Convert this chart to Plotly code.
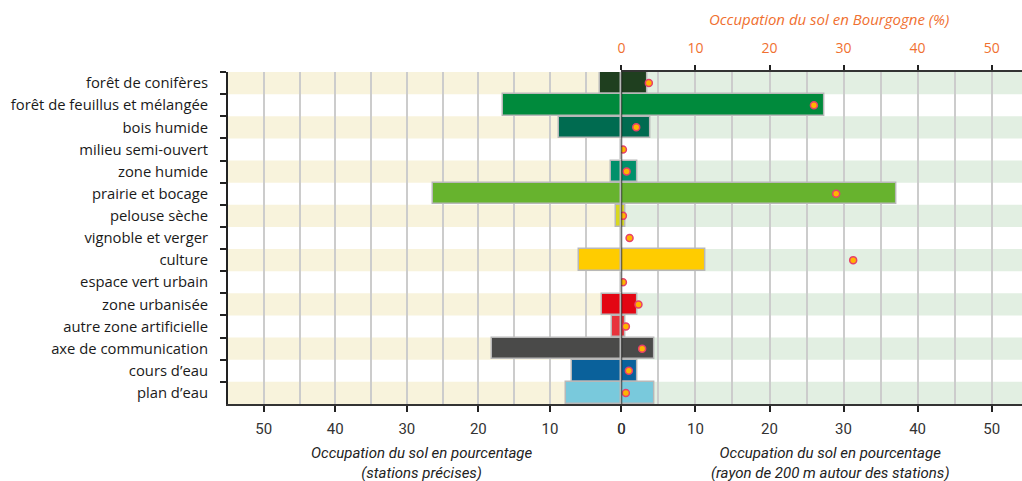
import plotly.graph_objects as go

categories = ["forêt de conifères", "forêt de feuillus et mélangée", "bois humide",
              "milieu semi-ouvert", "zone humide", "prairie et bocage", "pelouse sèche",
              "vignoble et verger", "culture", "espace vert urbain", "zone urbanisée",
              "autre zone artificielle", "axe de communication", "cours d’eau", "plan d’eau"]
stations = [3.0, 16.5, 8.7, 0, 1.4, 26.3, 0.7, 0, 6.0, 0, 2.7, 1.35, 18.1, 6.9, 7.75]
rayon200 = [3.5, 27.4, 3.9, 0, 2.1, 37.1, 0.6, 0, 11.4, 0, 2.2, 0.6, 4.5, 2.1, 4.4]
bourgogne = [3.7, 26.0, 2.0, 0.2, 0.7, 29.0, 0.2, 1.1, 31.3, 0.2, 2.3, 0.6, 2.8, 1.0, 0.6]
colors = ["#1f3f1f", "#008a3c", "#006b50", "#ffffff", "#00906a", "#67b32e", "#d8d820",
          "#ffffff", "#ffcc00", "#ffffff", "#e30613", "#e8333c", "#4a4a49", "#0a619b", "#79c9dc"]

LEFT_MAX = 55
RIGHT_MAX = 54.1
split = 0.4955
FONT = "Open Sans"
NARROW = "Roboto"

fig = go.Figure()

shapes = []
for i, c in enumerate(categories):
    if i % 2 == 0:
        shapes.append(dict(type="rect", xref="x", yref="y", x0=LEFT_MAX, x1=0,
                           y0=i - 0.5, y1=i + 0.5, fillcolor="#f8f3dc", line_width=0,
                           layer="below"))
        shapes.append(dict(type="rect", xref="x2", yref="y", x0=0, x1=RIGHT_MAX,
                           y0=i - 0.5, y1=i + 0.5, fillcolor="#e2efe2", line_width=0,
                           layer="below"))
shapes.append(dict(type="line", xref="x2", yref="paper", x0=0, x1=0, y0=0, y1=1,
                   line=dict(color="#111111", width=1.5), layer="above"))

fig.add_trace(go.Bar(y=categories, x=stations, orientation="h", xaxis="x", yaxis="y",
                     marker=dict(color=colors, line=dict(color="#b8b8b8", width=1.5)),
                     width=0.97, showlegend=False))
fig.add_trace(go.Bar(y=categories, x=rayon200, orientation="h", xaxis="x2", yaxis="y",
                     marker=dict(color=colors, line=dict(color="#b8b8b8", width=1.5)),
                     width=0.97, showlegend=False))
fig.add_trace(go.Scatter(y=categories, x=bourgogne, mode="markers", xaxis="x3", yaxis="y",
                         marker=dict(size=7, color="#ffb400",
                                     line=dict(color="#e8406a", width=1.5)),
                         showlegend=False))

common_x = dict(showgrid=True, gridcolor="#cccccc", gridwidth=2, dtick=10, tick0=0,
                ticks="outside", ticklen=6, tickcolor="#222222", tickwidth=1.5,
                showline=True, linecolor="#333333", linewidth=2, zeroline=False,
                automargin=False, ticklabelstandoff=4,
                minor=dict(dtick=5, showgrid=True, gridcolor="#cccccc", gridwidth=2, ticks=""),
                tickfont=dict(family=NARROW, size=15, color="#333333"), fixedrange=True)

fig.update_layout(
    width=1022, height=481,
    margin=dict(l=228, r=0, t=72, b=77),
    paper_bgcolor="white", plot_bgcolor="white",
    bargap=0, barmode="overlay",
    shapes=shapes,
    xaxis=dict(domain=[0, split], range=[LEFT_MAX, 0], anchor="y", **common_x),
    xaxis2=dict(domain=[split, 1], range=[0, RIGHT_MAX], anchor="y", **common_x),
    xaxis3=dict(overlaying="x2", side="top", range=[0, RIGHT_MAX], anchor="y",
                showgrid=False, zeroline=False, dtick=10, tick0=0, ticks="outside",
                ticklen=5, tickcolor="#222222", tickwidth=1.5, showline=True,
                linecolor="#333333", linewidth=2, automargin=False, ticklabelstandoff=6,
                tickfont=dict(family=FONT, size=14, color="#f07030")),
    yaxis=dict(categoryorder="array", categoryarray=categories, range=[14.5, -0.5],
               showgrid=False, zeroline=False, showline=True, linecolor="#222222",
               linewidth=2, ticks="outside", tickson="boundaries", ticklen=6,
               tickcolor="#222222", tickwidth=1.5, ticklabelstandoff=15, automargin=False,
               tickfont=dict(family=FONT, size=14.8, color="#1a1a1a")),
    annotations=[
        dict(text="Occupation du sol en Bourgogne (%)", xref="paper", yref="paper",
             x=0.757, xanchor="center", y=1, yanchor="middle", yshift=53, showarrow=False,
             font=dict(family=FONT, size=15, color="#f07030", style="italic")),
        dict(text="Occupation du sol en pourcentage<br>(stations précises)", xref="paper",
             yref="paper", x=0.244, xanchor="center", y=0, yanchor="middle", yshift=-59,
             showarrow=False,
             font=dict(family=NARROW, size=15, color="#222222", style="italic")),
        dict(text="Occupation du sol en pourcentage<br>(rayon de 200 m autour des stations)",
             xref="paper", yref="paper", x=0.758, xanchor="center", y=0, yanchor="middle",
             yshift=-59, showarrow=False,
             font=dict(family=NARROW, size=15, color="#222222", style="italic")),
    ],
)

fig.write_html("out.html", config={"displayModeBar": False},
               post_script="document.body.style.margin='0';document.body.style.overflow='hidden';")
